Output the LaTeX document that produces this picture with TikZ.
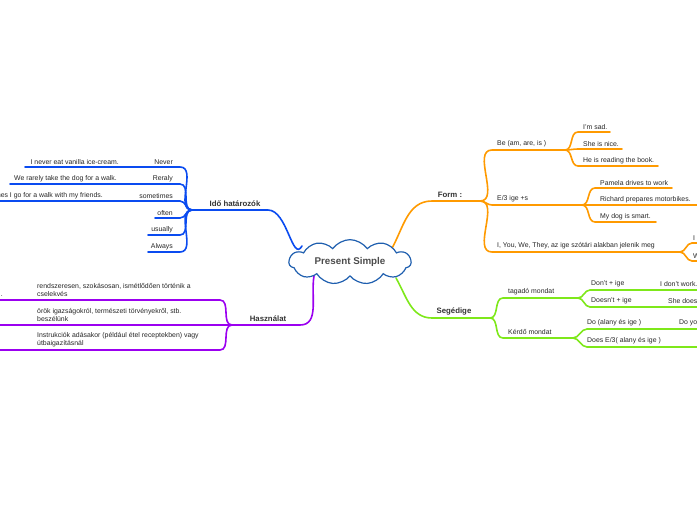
\documentclass[tikz,border=0pt]{standalone}
\usepackage{fontspec}
\setmainfont{Liberation Sans}
\usetikzlibrary{shapes.symbols}
\definecolor{cb}{HTML}{0A4BF0}
\definecolor{co}{HTML}{FF9A00}
\definecolor{cg}{HTML}{7EE81A}
\definecolor{cp}{HTML}{9B00F0}
\definecolor{ccl}{HTML}{1F5FAF}
\tikzset{
 br/.style={line width=1.6pt,line cap=round},
 tx/.style={font=\fontsize{6.9}{8}\selectfont,text=black!85,inner sep=1pt},
 hd/.style={font=\bfseries\fontsize{7.8}{9}\selectfont,text=black!80,inner sep=1pt},
}
\begin{document}
\begin{tikzpicture}[x=1pt,y=-1pt]
\useasboundingbox (0,0) rectangle (697,520);
\clip (0,0) rectangle (697,520);
% ---------- blue
\coordinate (bfan) at (192,210);
\draw[br,cb] (302,246) to[out=240,in=0] (268,210) -- (bfan);
\node[hd,anchor=south] (ido) at (235,208) {Idő határozók};
\foreach \y/\s/\e/\t/\u in {167/25/Never/I never eat vanilla ice-cream./120,
 184/10/Reraly/We rarely take the dog for a walk./118,
 201/-50/sometimes/Sometimes I go for a walk with my friends./104}{
 \draw[br,cb] (bfan) to[out=180,in=0] (180,\y) -- (\s,\y);
 \node[tx,anchor=south east] at (174,\y-1) {\e};
 \node[tx,anchor=south east] at (\u,\y-1) {\t};}
\foreach \y/\s/\e in {218/155/often,235/148/usually,252/148/Always}{
 \draw[br,cb] (bfan) to[out=180,in=0] (180,\y) -- (\s,\y);
 \node[tx,anchor=south east] at (174,\y-1) {\e};}
% ---------- orange
\coordinate (ofan) at (480,201);
\draw[br,co] (391,250) to[out=60,in=180] (432,201) -- (ofan);
\node[hd,anchor=south] (form) at (450,199) {Form :};
\coordinate (be) at (565,150);
\coordinate (e3) at (582,205);
\coordinate (iy) at (680,252);
\draw[br,co] (ofan) to[out=0,in=180] (492,150) -- (be);
\draw[br,co] (ofan) to[out=0,in=180] (492,205) -- (e3);
\draw[br,co] (ofan) to[out=0,in=180] (492,252) -- (iy);
\node[tx,anchor=south west] at (496,148) {Be (am, are, is )};
\node[tx,anchor=south west] at (496,203) {E/3 ige +s};
\node[tx,anchor=south west] at (496,250) {I, You, We, They, az ige szótári alakban jelenik meg};
\foreach \y/\e/\t in {132/610/I'm sad.,149/622/She is nice.,166/658/He is reading the book.}{
 \draw[br,co] (be) to[out=0,in=180] (578,\y) -- (\e,\y);
 \node[tx,anchor=south west] at (582,\y-1) {\t};}
\foreach \y/\e/\t in {188/672/Pamela drives to work,205/697/Richard prepares motorbikes.,222/656/My dog is smart.}{
 \draw[br,co] (e3) to[out=0,in=180] (595,\y) -- (\e,\y);
 \node[tx,anchor=south west] at (599,\y-1) {\t};}
\foreach \y/\t in {243/I work.,261/We work.}{
 \draw[br,co] (iy) to[out=0,in=180] (692,\y) -- (700,\y);
 \node[tx,anchor=south west] at (692,\y-1) {\t};}
% ---------- green
\coordinate (gfan) at (490,318);
\draw[br,cg] (396,278) to[out=-60,in=180] (432,318) -- (gfan);
\node[hd,anchor=south] (seg) at (454,316) {Segédige};
\coordinate (tag) at (578,298);
\coordinate (ker) at (573,338);
\draw[br,cg] (gfan) to[out=0,in=180] (503,298) -- (tag);
\draw[br,cg] (gfan) to[out=0,in=180] (503,338) -- (ker);
\node[tx,anchor=south west] at (507,296) {tagadó mondat};
\node[tx,anchor=south west] at (507,336) {Kérdő mondat};
\draw[br,cg] (tag) to[out=0,in=180] (590,290) -- (700,290);
\draw[br,cg] (tag) to[out=0,in=180] (590,307) -- (700,307);
\draw[br,cg] (ker) to[out=0,in=180] (587,329) -- (700,329);
\draw[br,cg] (ker) to[out=0,in=180] (587,347) -- (700,347);
\node[tx,anchor=south west] at (590,288) {Don't + ige};
\node[tx,anchor=south west] at (590,305) {Doesn't + ige};
\node[tx,anchor=south west] at (586,327) {Do (alany és ige )};
\node[tx,anchor=south west] at (586,345) {Does E/3( alany és ige )};
\node[tx,anchor=south west] at (659,288) {I don't work.};
\node[tx,anchor=south west] at (667,305) {She doesn't work.};
\node[tx,anchor=south west] at (678,327) {Do you work?};
% ---------- purple
\coordinate (pfan) at (232,325);
\draw[br,cp] (314,276) to[out=260,in=0] (300,325) -- (pfan);
\node[hd,anchor=south] (hasz) at (268,323) {Használat};
\foreach \y in {300,325,350}{
 \draw[br,cp] (pfan) to[out=180,in=0] (220,\y) -- (0,\y);}
\node[tx,anchor=south west,align=left] at (36,298) {rendszeresen, szokásosan, ismétlődően történik a\\cselekvés};
\node[tx,anchor=south east] at (4,298) {.};
\node[tx,anchor=south west,align=left] at (36,323) {örök igazságokról, természeti törvényekről, stb.\\beszélünk};
\node[tx,anchor=south west,align=left] at (36,348) {Instrukciók adásakor (például étel receptekben) vagy\\útbaigazításnál};
% ---------- centre
\node[cloud,cloud puffs=11,cloud puff arc=110,aspect=3.2,draw=ccl,line width=1.2pt,fill=white,
 minimum width=122pt,minimum height=40pt,inner sep=0pt,font=\bfseries\fontsize{9.8}{10}\selectfont,text=black!70] (ps) at (350,262) {Present Simple};
\end{tikzpicture}
\end{document}
